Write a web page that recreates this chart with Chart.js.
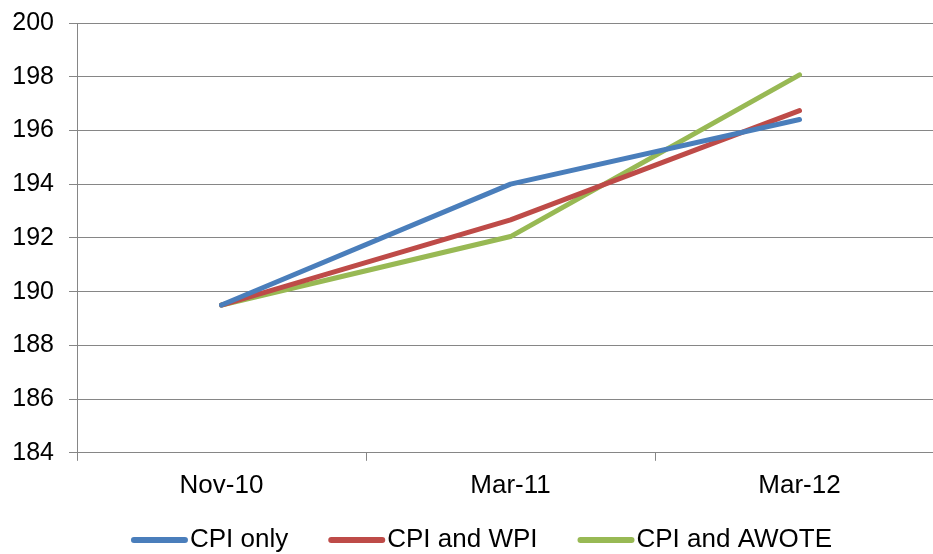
<!DOCTYPE html>
<html>
<head>
<meta charset="utf-8">
<script src="https://cdn.jsdelivr.net/npm/chart.js@4/dist/chart.umd.min.js"></script>
<style>
  html, body { margin: 0; padding: 0; background: #fff; overflow: hidden; }
  #wrap { width: 967px; height: 570px; margin-top: -7px; }
</style>
</head>
<body>
<div id="wrap"><canvas id="c" width="967" height="570"></canvas></div>
<script>
// Index values by review date
const categories = ['Nov-10', 'Mar-11', 'Mar-12'];
const cpiOnly   = [189.5, 194.0, 196.41];
const cpiWpi    = [189.5, 192.67, 196.74];
const cpiAwote  = [189.5, 192.05, 198.07];
const yTicks    = [184, 186, 188, 190, 192, 194, 196, 198, 200];

const gridGrey = '#868686';
const family = '"Liberation Sans", Arial, sans-serif';
const axisFont = { family, size: 26 };
const yFont = { family, size: 25 };
const legendFont = { family, size: 26 };
const LEGEND_BOX = 69;

function series(label, data, color) {
  return {
    label, data,
    borderColor: color, backgroundColor: color,
    borderWidth: 5, pointRadius: 0, tension: 0,
    borderCapStyle: 'round', borderJoinStyle: 'round'
  };
}

// Legend keys drawn as short thick lines sitting right against their text
const legendLines = {
  id: 'legendLines',
  afterDraw(chart) {
    const lg = chart.legend;
    if (!lg || !lg.legendHitBoxes) return;
    const ctx = chart.ctx;
    lg.legendHitBoxes.forEach((hb, i) => {
      const textX = hb.left + LEGEND_BOX + legendFont.size / 2;
      const y = hb.top + hb.height / 2;
      ctx.save();
      ctx.strokeStyle = chart.data.datasets[i].borderColor;
      ctx.lineWidth = 6;
      ctx.lineCap = 'round';
      ctx.beginPath();
      ctx.moveTo(textX - 56, y);
      ctx.lineTo(textX - 5, y);
      ctx.stroke();
      ctx.restore();
    });
  }
};

new Chart(document.getElementById('c'), {
  type: 'line',
  data: {
    labels: categories,
    datasets: [
      series('CPI only', cpiOnly, '#4A7EBB'),
      series('CPI and WPI', cpiWpi, '#BE4B48'),
      series('CPI and AWOTE', cpiAwote, '#98B954')
    ]
  },
  plugins: [legendLines],
  options: {
    responsive: false,
    animation: false,
    layout: { padding: { top: 1, left: -4, right: 23, bottom: 0 } },
    plugins: {
      tooltip: { enabled: false },
      legend: {
        position: 'bottom',
        labels: {
          font: legendFont, color: '#000',
          boxWidth: LEGEND_BOX, boxHeight: 6, padding: 17,
          generateLabels(chart) {
            return chart.data.datasets.map((d, i) => ({
              text: d.label, fillStyle: 'rgba(0,0,0,0)', strokeStyle: 'rgba(0,0,0,0)',
              lineWidth: 0, datasetIndex: i, fontColor: '#000'
            }));
          }
        }
      }
    },
    scales: {
      x: {
        offset: true,
        grid: { offset: true, drawOnChartArea: false, drawTicks: true, tickLength: 8, color: gridGrey, lineWidth: 1 },
        border: { color: gridGrey, width: 1 },
        ticks: { font: axisFont, color: '#000', padding: 9, maxRotation: 0 }
      },
      y: {
        min: 184, max: 200,
        afterBuildTicks(axis) { axis.ticks = yTicks.map(v => ({ value: v })); },
        afterFit(axis) { axis.width = 81; },
        grid: { color: gridGrey, lineWidth: 1, tickLength: 8 },
        border: { color: gridGrey, width: 1 },
        ticks: { font: yFont, color: '#000', padding: 15 }
      }
    }
  }
});
</script>
</body>
</html>
